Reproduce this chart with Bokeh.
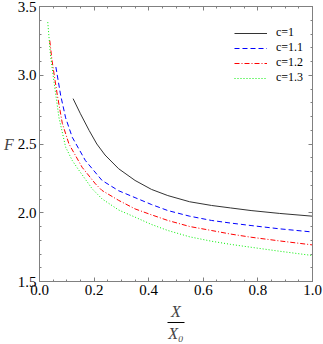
from bokeh.plotting import figure
from bokeh.models import (Range1d, LinearAxis, SingleIntervalTicker, FixedTicker,
                          PrintfTickFormatter, CustomLabelingPolicy)
from bokeh.embed import file_html
from bokeh.resources import INLINE

series_labels = ["c=1", "c=1.1", "c=1.2", "c=1.3"]

x_c1 = [0.123, 0.15, 0.182, 0.21, 0.24, 0.29, 0.35, 0.41, 0.47, 0.55, 0.63, 0.70, 0.775, 0.88, 1.0]
y_c1 = [2.83, 2.72, 2.598, 2.50, 2.42, 2.32, 2.235, 2.17, 2.125, 2.08, 2.053, 2.035, 2.016, 1.995, 1.975]

x_c11 = [0.06, 0.0776, 0.0958, 0.12, 0.168, 0.229, 0.29, 0.35, 0.41, 0.47, 0.55, 0.63, 0.70, 0.775, 0.88, 1.0]
y_c11 = [3.06, 2.853, 2.69, 2.549, 2.38, 2.235, 2.16, 2.11, 2.06, 2.016, 1.975, 1.944, 1.925, 1.907, 1.883, 1.86]

x_c12 = [0.0376, 0.045, 0.0533, 0.0655, 0.0836, 0.108, 0.156, 0.205, 0.229, 0.29, 0.35, 0.41, 0.47, 0.55, 0.63, 0.70, 0.775, 0.88, 1.0]
y_c12 = [3.253, 3.12, 3.01, 2.853, 2.65, 2.50, 2.331, 2.21, 2.162, 2.09, 2.028, 1.985, 1.944, 1.90, 1.871, 1.845, 1.822, 1.795, 1.766]

x_c13 = [0.0303, 0.04, 0.0533, 0.0715, 0.0958, 0.12, 0.144, 0.193, 0.229, 0.29, 0.35, 0.41, 0.47, 0.55, 0.63, 0.70, 0.775, 0.88, 1.0]
y_c13 = [3.386, 3.15, 2.949, 2.69, 2.477, 2.38, 2.31, 2.174, 2.101, 2.02, 1.968, 1.915, 1.871, 1.825, 1.793, 1.77, 1.749, 1.72, 1.689]

FONT = "Liberation Serif"
AX = "#808080"

p = figure(width=323, height=344, output_backend="svg", toolbar_location=None,
           x_range=Range1d(0, 1), y_range=Range1d(1.5, 3.5),
           min_border_left=37, min_border_right=11, min_border_top=6, min_border_bottom=63,
           x_axis_type=None, y_axis_type=None)
p.xgrid.visible = False
p.ygrid.visible = False
p.outline_line_color = AX
p.background_fill_color = "white"
p.border_fill_color = "white"

HIDE_ALL = CustomLabelingPolicy(code="""
const C = indices.constructor;
if (C != null && typeof C.all_unset === "function") { return C.all_unset(indices.size); }
for (const i of Array.from(indices.ones())) { indices.unset(i); }
return indices;
""")


def make_axis(kind, show_labels):
    if kind == "x":
        tk = SingleIntervalTicker(interval=0.2, num_minor_ticks=4)
    else:
        tk = SingleIntervalTicker(interval=0.5, num_minor_ticks=5)
    ax = LinearAxis(ticker=tk, formatter=PrintfTickFormatter(format="%.1f"))
    ax.axis_line_color = AX
    ax.major_tick_line_color = AX
    ax.minor_tick_line_color = AX
    ax.major_tick_in = 4
    ax.major_tick_out = 0
    ax.minor_tick_in = 2
    ax.minor_tick_out = 0
    ax.major_label_text_font = FONT
    ax.major_label_text_font_size = "15px"
    ax.major_label_text_color = "black"
    ax.major_label_standoff = 3
    if not show_labels:
        ax.major_label_policy = HIDE_ALL
        ax.major_label_text_font_size = "0px"
        ax.major_label_standoff = 0
    return ax


xa = make_axis("x", True)
ya = make_axis("y", True)
ya.axis_label = "F"
ya.axis_label_orientation = "horizontal"
ya.axis_label_text_font = FONT
ya.axis_label_text_font_style = "italic"
ya.axis_label_text_font_size = "16px"
ya.axis_label_standoff = 1

p.add_layout(xa, "below")
p.add_layout(ya, "left")
p.add_layout(make_axis("x", False), "above")
p.add_layout(make_axis("y", False), "right")

# x axis title as a fraction: numerator, bar (axis line with bounds), denominator
num_ax = LinearAxis(ticker=FixedTicker(ticks=[]), axis_line_alpha=0,
                    major_tick_in=0, major_tick_out=0, minor_tick_in=0, minor_tick_out=0,
                    axis_label="X", axis_label_text_font=FONT, axis_label_text_font_style="italic",
                    axis_label_text_font_size="16px", axis_label_standoff=5)
den_ax = LinearAxis(ticker=FixedTicker(ticks=[]), bounds=(0.47, 0.53), axis_line_color="black",
                    major_tick_in=0, major_tick_out=0, minor_tick_in=0, minor_tick_out=0,
                    axis_label="X\u2080", axis_label_text_font=FONT, axis_label_text_font_style="italic",
                    axis_label_text_font_size="16px", axis_label_standoff=2)
p.add_layout(num_ax, "below")
p.add_layout(den_ax, "below")

p.line(x_c1, y_c1, line_color="#333333", line_width=1, legend_label=series_labels[0])
p.line(x_c11, y_c11, line_color="#0000ff", line_width=1, line_dash="5 3", legend_label=series_labels[1])
p.line(x_c12, y_c12, line_color="#ff0000", line_width=1, line_dash="5 2 1 2", legend_label=series_labels[2])
p.line(x_c13, y_c13, line_color="#00ee00", line_width=1, line_dash="1 2", legend_label=series_labels[3])

lg = p.legend[0]
lg.location = (195, 196)
lg.padding = 0
lg.margin = 0
lg.spacing = 0
lg.glyph_width = 33
lg.glyph_height = 12
lg.label_height = 12
lg.label_standoff = 9
lg.label_text_font = FONT
lg.label_text_font_size = "12px"
lg.label_text_color = "black"
lg.border_line_alpha = 0
lg.background_fill_alpha = 0

open("out.html", "w").write(file_html(p, INLINE))
